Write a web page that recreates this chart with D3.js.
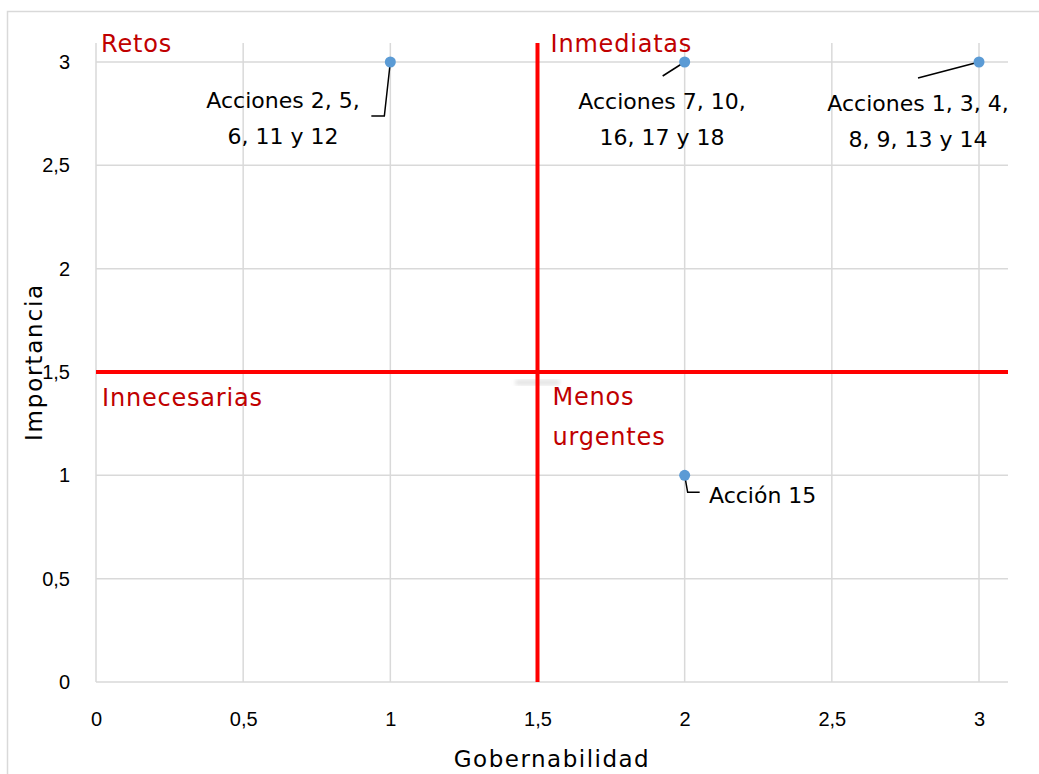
<!DOCTYPE html>
<html><head><meta charset="utf-8">
<script src="https://cdn.jsdelivr.net/npm/d3@7"></script>
<style>
html,body{margin:0;padding:0;background:#fff;}
svg{display:block;}
</style></head>
<body>
<svg id="chart" width="1039" height="774"></svg>
<script>
// ---- data ----
const pointX = [1, 2, 3, 2];
const pointY = [3, 3, 3, 1];
const pointLabels = [
  ["Acciones 2, 5,", "6, 11 y 12"],
  ["Acciones 7, 10,", "16, 17 y 18"],
  ["Acciones 1, 3, 4,", "8, 9, 13 y 14"],
  ["Acción 15"]
];
const xTicks = [0, 0.5, 1, 1.5, 2, 2.5, 3];
const yTicks = [0, 0.5, 1, 1.5, 2, 2.5, 3];
const quadrantNames = ["Retos", "Inmediatas", "Innecesarias", "Menos urgentes"];
const dividerX = 1.5, dividerY = 1.5;
const xTitle = "Gobernabilidad", yTitle = "Importancia";

// ---- layout ----
const svg = d3.select("#chart");
const labelFont = "'DejaVu Sans', sans-serif";
const tickFont = "'Liberation Sans', Arial, sans-serif";
const x = d3.scaleLinear().domain([0, 3]).range([96, 979]);
const y = d3.scaleLinear().domain([0, 3]).range([682, 62]);
const xMax = x.invert(1008), yMax = y.invert(43);
const fmt = d => String(d).replace(".", ",");

svg.append("rect").attr("x", 7.5).attr("y", 11.5).attr("width", 1050).attr("height", 800)
  .attr("fill", "#fff").attr("stroke", "#d9d9d9").attr("stroke-width", 1.5);

// gridlines
const grid = svg.append("g").attr("stroke", "#d9d9d9").attr("stroke-width", 1.5);
grid.selectAll("line.v").data(xTicks).join("line")
  .attr("x1", d => x(d)).attr("x2", d => x(d)).attr("y1", y(yMax)).attr("y2", y(0));
grid.selectAll("line.h").data(yTicks).join("line")
  .attr("x1", x(0)).attr("x2", x(xMax)).attr("y1", d => y(d)).attr("y2", d => y(d));

// axes (labels only)
const xAxis = svg.append("g").attr("transform", `translate(0,${y(0)})`)
  .call(d3.axisBottom(x).tickValues(xTicks).tickFormat(fmt).tickSize(0).tickPadding(44));
const yAxis = svg.append("g").attr("transform", `translate(${x(0)},0)`)
  .call(d3.axisLeft(y).tickValues(yTicks).tickFormat(fmt).tickSize(0).tickPadding(26));
[xAxis, yAxis].forEach(a => {
  a.select(".domain").remove();
  a.selectAll("text").attr("font-family", tickFont).attr("font-size", 20).attr("fill", "#000");
});
xAxis.selectAll("text").attr("dy", "0");

// faint artifact near the center
const defs = svg.append("defs");
defs.append("filter").attr("id", "blur").append("feGaussianBlur").attr("stdDeviation", 2);
svg.append("rect").attr("x", x(1.5) - 22).attr("y", y(1.5) + 8).attr("width", 44).attr("height", 5)
  .attr("fill", "#e0e0e0").attr("filter", "url(#blur)");

// red dividers
const red = svg.append("g").attr("stroke", "#ff0000").attr("stroke-width", 4);
red.append("line").attr("x1", x(0)).attr("x2", x(xMax)).attr("y1", y(dividerY)).attr("y2", y(dividerY));
red.append("line").attr("x1", x(dividerX)).attr("x2", x(dividerX)).attr("y1", y(yMax)).attr("y2", y(0));

// quadrant labels
const qcol = "#c00000", qsize = 24;
const q = svg.append("g").attr("font-family", labelFont).attr("font-size", qsize).attr("fill", qcol)
  .attr("letter-spacing", 0.8);
q.append("text").attr("x", x(0) + 5).attr("y", 52).text(quadrantNames[0]);
q.append("text").attr("x", x(dividerX) + 13).attr("y", 52).text(quadrantNames[1]);
q.append("text").attr("x", x(0) + 6).attr("y", 406).text(quadrantNames[2]);
const mu = quadrantNames[3].split(" ");
q.append("text").attr("x", x(dividerX) + 15).attr("y", 405).text(mu[0]);
q.append("text").attr("x", x(dividerX) + 15).attr("y", 445).text(mu[1]);

// leader lines
const lead = svg.append("g").attr("stroke", "#000").attr("stroke-width", 1.5).attr("fill", "none");
const px = i => x(pointX[i]), py = i => y(pointY[i]);
lead.append("path").attr("d", `M${px(0)},${py(0)} L${px(0) - 6},${py(0) + 54} L${px(0) - 19},${py(0) + 54}`);
lead.append("path").attr("d", `M${px(1)},${py(1)} L${px(1) - 22},${py(1) + 14}`);
lead.append("path").attr("d", `M${px(2)},${py(2)} L${px(2) - 61},${py(2) + 16}`);
lead.append("path").attr("d", `M${px(3)},${py(3)} L${px(3) + 3},${py(3) + 17} L${px(3) + 15},${py(3) + 17}`);

// points
svg.append("g").selectAll("circle").data(pointX).join("circle")
  .attr("cx", (d, i) => x(d)).attr("cy", (d, i) => y(pointY[i])).attr("r", 5.5)
  .attr("fill", "#5b9bd5");

// data labels
const labelPos = [
  {cx: 283, y0: 108, anchor: "middle"},
  {cx: 662, y0: 109, anchor: "middle"},
  {cx: 918, y0: 111, anchor: "middle"},
  {cx: 709, y0: 503, anchor: "start"}
];
const dl = svg.append("g").attr("font-family", labelFont).attr("font-size", 22).attr("fill", "#000");
pointLabels.forEach((lines, i) => {
  lines.forEach((t, j) => {
    dl.append("text").attr("x", labelPos[i].cx).attr("y", labelPos[i].y0 + j * 36)
      .attr("text-anchor", labelPos[i].anchor).text(t);
  });
});

// axis titles
svg.append("text").attr("x", 552).attr("y", 767).attr("text-anchor", "middle")
  .attr("font-family", labelFont).attr("font-size", 23).attr("letter-spacing", 1.5).text(xTitle);
svg.append("text").attr("transform", "translate(42,362) rotate(-90)").attr("text-anchor", "middle")
  .attr("font-family", labelFont).attr("font-size", 23).attr("letter-spacing", 1.8).text(yTitle);
</script>
</body></html>
